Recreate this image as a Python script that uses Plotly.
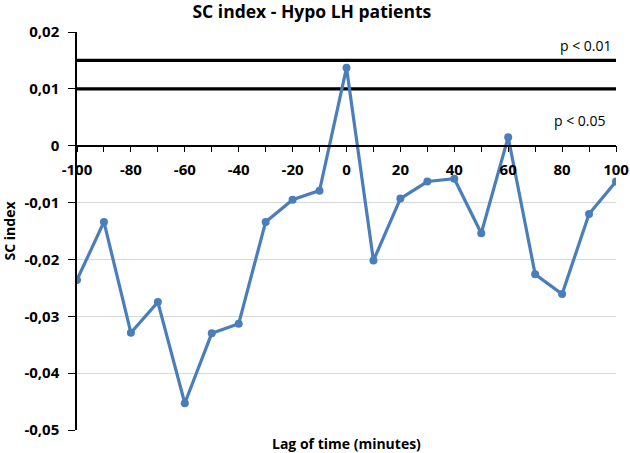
import plotly.graph_objects as go

lags = [-100, -90, -80, -70, -60, -50, -40, -30, -20, -10, 0,
        10, 20, 30, 40, 50, 60, 70, 80, 90, 100]
sc_index = [-0.0236, -0.0134, -0.0329, -0.0275, -0.0453, -0.0330, -0.0313,
            -0.0134, -0.0095, -0.0079, 0.0137, -0.0202, -0.0093, -0.0063,
            -0.0058, -0.0154, 0.0015, -0.0226, -0.0261, -0.0120, -0.0063]
thresholds = [0.015, 0.01]
threshold_labels = ["p < 0.01", "p < 0.05"]
x_tickvals = [-100, -80, -60, -40, -20, 0, 20, 40, 60, 80, 100]
x_ticktext = ["-100", "-80", "-60", "-40", "-20", "0", "20", "40", "60", "80", "100"]
y_tickvals = [0.02, 0.01, 0, -0.01, -0.02, -0.03, -0.04, -0.05]
y_ticktext = ["0,02", "0,01", "0", "-0,01", "-0,02", "-0,03", "-0,04", "-0,05"]

FONT = "Open Sans"
fig = go.Figure()
for t in thresholds:
    fig.add_trace(go.Scatter(x=[lags[0], lags[-1]], y=[t, t], mode="lines",
                             line=dict(color="black", width=3.2), showlegend=False,
                             hoverinfo="skip"))
fig.add_trace(go.Scatter(x=lags, y=sc_index, mode="lines+markers",
                         line=dict(color="#4A7EBB", width=3.2),
                         marker=dict(color="#4A7EBB", size=8), showlegend=False))

ymin, ymax = -0.05, 0.02
zero_pos = (0 - ymin) / (ymax - ymin)

fig.add_annotation(x=100, y=thresholds[0], text=threshold_labels[0], showarrow=False,
                   xanchor="right", yanchor="bottom", yshift=3, xshift=-2,
                   font=dict(family=FONT, size=14, color="black"))
fig.add_annotation(x=100, y=0.0044, text=threshold_labels[1], showarrow=False,
                   xanchor="right", yanchor="middle", xshift=-8,
                   font=dict(family=FONT, size=14, color="black"))

fig.update_layout(
    width=630, height=453,
    margin=dict(l=77, r=14, t=32, b=23, autoexpand=False),
    paper_bgcolor="white", plot_bgcolor="white",
    title=dict(text="SC index - Hypo LH patients", x=0.495, xanchor="center",
               y=0.9735, yanchor="middle", pad=dict(t=0, b=0),
               font=dict(family=FONT, size=17.5, color="black", weight="bold")),
    xaxis=dict(range=[-100, 100], anchor="free", position=zero_pos,
               automargin=False,
               tickvals=x_tickvals, ticktext=x_ticktext,
               showgrid=False, zeroline=False, showline=True,
               linecolor="black", linewidth=1.5,
               ticks="outside", ticklen=6, tickcolor="black",
               ticklabelstandoff=5,
               minor=dict(dtick=10, tick0=0, ticks="outside", ticklen=6,
                          tickcolor="black", showgrid=False),
               tickfont=dict(family=FONT, size=15, color="black", weight="bold")),
    yaxis=dict(range=[ymin, ymax], tickvals=y_tickvals, ticktext=y_ticktext,
               automargin=False,
               showgrid=True, gridcolor="#D9D9D9", gridwidth=1,
               zeroline=False, showline=True, linecolor="black", linewidth=1.5,
               ticks="outside", ticklen=7, tickcolor="black",
               ticklabelstandoff=6,
               title=dict(text="SC index", standoff=6,
                          font=dict(family=FONT, size=14, color="black", weight="bold")),
               tickfont=dict(family=FONT, size=15, color="black", weight="bold")),
)
fig.add_annotation(x=0.5, y=-0.005, xref="paper", yref="paper",
                   text="Lag of time (minutes)", showarrow=False,
                   xanchor="center", yanchor="top",
                   font=dict(family=FONT, size=14, color="black", weight="bold"))
fig.write_html(
    "out.html",
    config={"displayModeBar": False},
    post_script=("document.body.style.margin='0';"
                 "document.body.style.overflow='hidden';"
                 "document.documentElement.style.overflow='hidden';"),
)
